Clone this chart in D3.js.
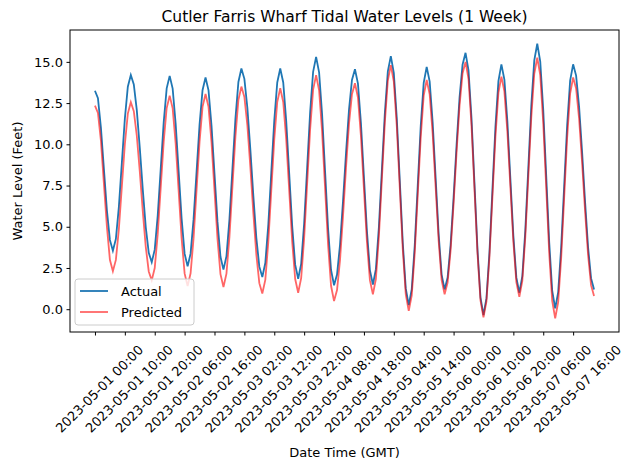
<!DOCTYPE html>
<html>
<head>
<meta charset="utf-8">
<script src="https://cdn.jsdelivr.net/npm/d3@7"></script>
<style>
  body { margin: 0; background: #fff; }
  text { font-family: "DejaVu Sans", sans-serif; fill: #000; }
</style>
</head>
<body>
<script>
// hourly readings starting 2023-05-01 00:00 GMT
const startTime = "2023-05-01T00:00:00Z";

const actual = [
  13.25, 12.8, 11.0, 8.5, 6.0, 4.2, 3.55, 4.26, 6.21, 8.88, 11.54, 13.49, 14.2,
  13.63, 12.07, 9.78, 7.27, 4.98, 3.42, 2.85, 3.61, 5.68, 8.5, 11.33, 13.39, 14.15,
  13.38, 11.26, 8.38, 5.49, 3.37, 2.6, 3.37, 5.46, 8.33, 11.19, 13.28, 14.05,
  13.27, 11.14, 8.23, 5.31, 3.18, 2.4, 3.22, 5.45, 8.5, 11.55, 13.78, 14.6,
  13.97, 12.22, 9.68, 6.87, 4.33, 2.58, 1.95, 2.8, 5.11, 8.28, 11.44, 13.75, 14.6,
  13.75, 11.41, 8.23, 5.04, 2.7, 1.85, 2.75, 5.21, 8.58, 11.94, 14.4, 15.3,
  14.37, 11.84, 8.38, 4.91, 2.38, 1.45, 2.1, 3.91, 6.55, 9.45, 12.09, 13.9, 14.55,
  13.68, 11.29, 8.03, 4.76, 2.37, 1.5, 2.43, 4.96, 8.43, 11.89, 14.42, 15.35,
  14.34, 11.58, 7.8, 4.03, 1.26, 0.25, 1.22, 3.86, 7.48, 11.09, 13.73, 14.7,
  13.8, 11.33, 7.95, 4.58, 2.1, 1.2, 1.92, 3.9, 6.78, 9.97, 12.85, 14.83, 15.55,
  14.48, 11.58, 7.6, 3.63, 0.72, -0.35, 0.67, 3.45, 7.25, 11.05, 13.83, 14.85,
  13.92, 11.39, 7.93, 4.46, 1.93, 1.0, 2.01, 4.78, 8.55, 12.33, 15.09, 16.1,
  15.02, 12.09, 8.08, 4.06, 1.13, 0.05, 1.04, 3.75, 7.45, 11.15, 13.86, 14.85,
  14.17, 12.28, 9.54, 6.51, 3.77, 1.88, 1.2
];

const predicted = [
  12.35, 11.9, 10.2, 7.6, 5.0, 3.0, 2.3, 2.99, 4.86, 7.43, 9.99, 11.86, 12.55,
  12.01, 10.52, 8.35, 5.95, 3.78, 2.29, 1.75, 2.5, 4.55, 7.35, 10.15, 12.2, 12.95,
  12.18, 10.06, 7.18, 4.29, 2.17, 1.4, 2.18, 4.31, 7.23, 10.14, 12.27, 13.05,
  12.27, 10.13, 7.2, 4.28, 2.13, 1.35, 2.16, 4.39, 7.43, 10.46, 12.69, 13.5,
  12.87, 11.14, 8.62, 5.83, 3.31, 1.58, 0.95, 1.78, 4.06, 7.18, 10.29, 12.57, 13.4,
  12.57, 10.3, 7.2, 4.1, 1.83, 1.0, 1.88, 4.3, 7.6, 10.9, 13.32, 14.2,
  13.28, 10.78, 7.35, 3.93, 1.42, 0.5, 1.16, 2.98, 5.63, 8.57, 11.22, 13.04, 13.7,
  12.84, 10.5, 7.3, 4.1, 1.76, 0.9, 1.83, 4.38, 7.85, 11.33, 13.87, 14.8,
  13.8, 11.08, 7.35, 3.63, 0.9, -0.1, 0.84, 3.4, 6.9, 10.4, 12.96, 13.9,
  13.03, 10.65, 7.4, 4.15, 1.77, 0.9, 1.61, 3.55, 6.38, 9.52, 12.35, 14.3, 15.0,
  13.96, 11.13, 7.25, 3.38, 0.54, -0.5, 0.48, 3.15, 6.8, 10.45, 13.12, 14.1,
  13.21, 10.76, 7.43, 4.09, 1.64, 0.75, 1.72, 4.38, 8.0, 11.63, 14.28, 15.25,
  14.19, 11.3, 7.35, 3.4, 0.51, -0.55, 0.43, 3.1, 6.75, 10.4, 13.07, 14.05,
  13.39, 11.56, 8.9, 5.95, 3.29, 1.46, 0.8
];

const yTicks = [0, 2.5, 5, 7.5, 10, 12.5, 15];
const xTickHours = d3.range(0, 161, 10);

const W = 631, H = 470;
const m = { left: 70, right: 619, top: 30, bottom: 332 };
const t0 = new Date(startTime);
const hourMs = 3600 * 1000;
const times = actual.map((d, i) => new Date(t0.getTime() + i * hourMs));

const tExt = d3.extent(times);
const tPad = (tExt[1] - tExt[0]) * 0.05;
const x = d3.scaleUtc()
  .domain([new Date(+tExt[0] - tPad), new Date(+tExt[1] + tPad)])
  .range([m.left, m.right]);

const allVals = actual.concat(predicted);
const yMin = d3.min(allVals), yMax = d3.max(allVals);
const yPad = (yMax - yMin) * 0.05;
const y = d3.scaleLinear()
  .domain([yMin - yPad, yMax + yPad])
  .range([m.bottom, m.top]);

const svg = d3.select("body").append("svg")
  .attr("width", W).attr("height", H);

const line = d3.line()
  .x((d, i) => x(times[i]))
  .y(d => y(d));

svg.append("path").datum(actual)
  .attr("d", line).attr("fill", "none")
  .attr("stroke", "#1f77b4").attr("stroke-width", 1.8);

svg.append("path").datum(predicted)
  .attr("d", line).attr("fill", "none")
  .attr("stroke", "red").attr("stroke-opacity", 0.6).attr("stroke-width", 1.8);

// frame
svg.append("rect")
  .attr("x", m.left).attr("y", m.top)
  .attr("width", m.right - m.left).attr("height", m.bottom - m.top)
  .attr("fill", "none").attr("stroke", "#000").attr("stroke-width", 1);

// y axis
const yAxis = svg.append("g")
  .attr("transform", `translate(${m.left},0)`)
  .call(d3.axisLeft(y).tickValues(yTicks).tickFormat(d3.format(".1f")).tickSize(3.5).tickPadding(3.5));
yAxis.select(".domain").remove();
yAxis.selectAll("text").style("font-size", "13px").style("font-family", "DejaVu Sans");

// x axis
const fmt = d3.utcFormat("%Y-%m-%d %H:%M");
const xTimes = xTickHours.map(h => new Date(t0.getTime() + h * hourMs));
const xAxis = svg.append("g")
  .attr("transform", `translate(0,${m.bottom})`)
  .call(d3.axisBottom(x).tickValues(xTimes).tickFormat(fmt).tickSize(3.5));
xAxis.select(".domain").remove();
xAxis.selectAll("text")
  .attr("y", 0).attr("dy", null)
  .attr("text-anchor", "middle")
  .attr("dominant-baseline", "central")
  .attr("transform", "translate(4,57) rotate(-45)")
  .style("font-size", "13px").style("font-family", "DejaVu Sans");

// titles
svg.append("text")
  .attr("x", (m.left + m.right) / 2).attr("y", 22)
  .attr("text-anchor", "middle").style("font-size", "15.5px")
  .text("Cutler Farris Wharf Tidal Water Levels (1 Week)");

svg.append("text")
  .attr("x", (m.left + m.right) / 2).attr("y", 457)
  .attr("text-anchor", "middle").style("font-size", "13px")
  .text("Date Time (GMT)");

svg.append("text")
  .attr("transform", `translate(22,${(m.top + m.bottom) / 2}) rotate(-90)`)
  .attr("text-anchor", "middle").style("font-size", "13px")
  .text("Water Level (Feet)");

// legend
const legend = svg.append("g").attr("transform", "translate(75,279)");
legend.append("rect")
  .attr("width", 119).attr("height", 46).attr("rx", 3)
  .attr("fill", "#fff").attr("fill-opacity", 0.8)
  .attr("stroke", "#ccc");
const items = [
  { name: "Actual", color: "#1f77b4", op: 1 },
  { name: "Predicted", color: "red", op: 0.6 }
];
items.forEach((it, i) => {
  const yy = 12 + i * 21;
  legend.append("line")
    .attr("x1", 5).attr("x2", 33).attr("y1", yy).attr("y2", yy)
    .attr("stroke", it.color).attr("stroke-opacity", it.op).attr("stroke-width", 1.8);
  legend.append("text")
    .attr("x", 46).attr("y", yy).attr("dy", "0.35em")
    .style("font-size", "13px").text(it.name);
});
</script>
</body>
</html>
